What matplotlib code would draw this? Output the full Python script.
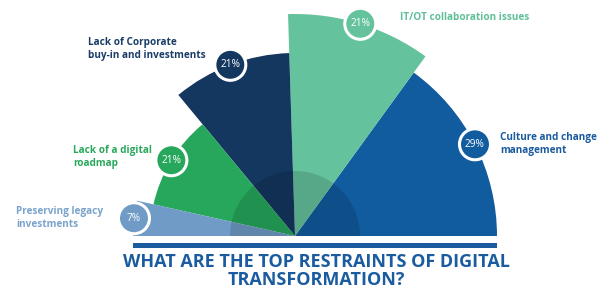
import numpy as np
import matplotlib
matplotlib.use("Agg")
import matplotlib.pyplot as plt
from matplotlib.patches import Wedge, Circle, Rectangle

plt.rcParams['font.family'] = ['Open Sans', 'DejaVu Sans']

# data, listed from the left end of the half circle to the right end
labels = ['Preserving legacy\ninvestments', 'Lack of a digital\nroadmap',
          'Lack of Corporate\nbuy-in and investments', 'IT/OT collaboration issues',
          'Culture and change\nmanagement']
shares = [7, 21, 21, 21, 29]

# styling
colors = ['#6f9bc6', '#27a75c', '#14375f', '#64c29d', '#115b9f']
text_colors = ['#7aa3cc', '#2aa85c', '#1a3d68', '#5fbf98', '#1a5a9e']
radii = [162, 145, 183, 222, 202]
label_pos = [(16, 218), (73, 157), (88, 49), (400, 18), (500, 144)]

W, H = 607, 291
cx, cy = 295, H - 236

fig = plt.figure(figsize=(W / 100, H / 100), dpi=100)
ax = fig.add_axes([0, 0, 1, 1])
ax.set_xlim(0, W)
ax.set_ylim(0, H)
ax.axis('off')

# angles from the left (180 deg) going clockwise; the last slice fills the rest
bounds = [180.0]
for s in shares[:-1]:
    bounds.append(bounds[-1] - s * 1.8)
bounds.append(0.0)

order = [4, 3, 2, 1, 0]
for i in order:
    hi, lo = bounds[i], bounds[i + 1]
    ax.add_patch(Wedge((cx, cy), radii[i], lo, hi, facecolor=colors[i],
                       edgecolor='none', zorder=2 + (4 - i) * 0.01 + (i == 0) * 0.1))

# darker inner half disc
ax.add_patch(Wedge((cx, cy), 65, 0, 180, facecolor='black', alpha=0.13,
                   edgecolor='none', zorder=3))

# percentage badges
for i in range(len(shares)):
    mid = np.deg2rad((bounds[i] + bounds[i + 1]) / 2)
    bx = cx + radii[i] * np.cos(mid)
    by = cy + radii[i] * np.sin(mid)
    ax.add_patch(Circle((bx, by), 15.5, facecolor=colors[i], edgecolor='white',
                        linewidth=2.2, zorder=5))
    ax.text(bx, by, f'{shares[i]}%', color='white', fontsize=7.3,
            ha='center', va='center', zorder=6)

# category labels
for i in range(len(labels)):
    x, y = label_pos[i]
    ax.text(x, H - y, labels[i], color=text_colors[i], fontsize=7.2,
            fontweight='bold', ha='left', va='center', linespacing=1.25)

# base bar
ax.add_patch(Rectangle((133, H - 247.5), 364, 5, facecolor='#1a5a9e',
                       edgecolor='none', zorder=2))

ax.text(316, H - 271, 'WHAT ARE THE TOP RESTRAINTS OF DIGITAL\nTRANSFORMATION?',
        color='#1b5b9f', fontsize=13, fontweight='bold', ha='center',
        va='center', linespacing=0.97)

fig.savefig('out.png', dpi=100)
